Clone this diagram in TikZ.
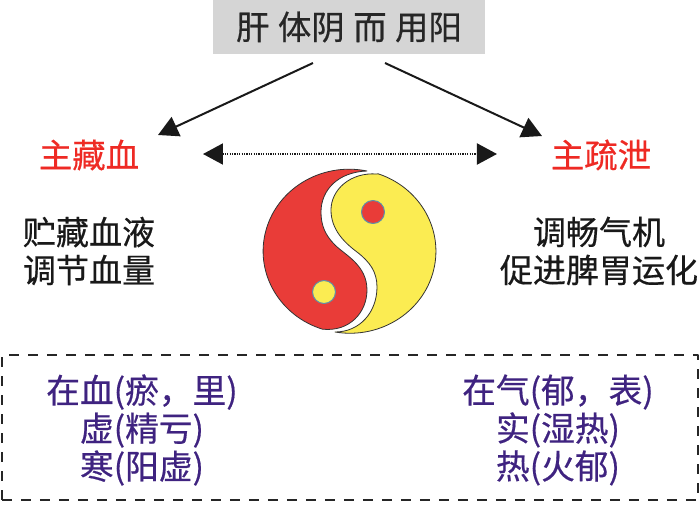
\documentclass[tikz,border=0pt]{standalone}
\usepackage{fontspec}
\setmainfont[FakeBold=0.5]{Noto Sans CJK SC}
\usepackage[usenames, table, x11names]{xcolor}
\usetikzlibrary{arrows.meta}
\definecolor{yinred}{HTML}{E93C38}
\definecolor{yangyellow}{HTML}{FBEC52}
\definecolor{labelred}{HTML}{EE2A24}
\definecolor{notepurple}{HTML}{3F2380}
\definecolor{titlegray}{HTML}{D5D5D5}
\definecolor{dotblue}{HTML}{5F8FA8}
\tikzset{
	titlebox/.style={fill=titlegray,text=black!85,minimum width=2.72cm,minimum height=.54cm,inner sep=0pt,font=\fontsize{9.5}{10}\selectfont},
	redlabel/.style={text=labelred,inner sep=0pt,font=\fontsize{9.5}{10.8}\selectfont},
	blacktext/.style={text=black!90,align=center,inner sep=0pt,font=\fontsize{9.4}{10.8}\selectfont},
	purpletext/.style={text=notepurple,align=center,inner sep=0pt,font=\fontsize{9.6}{10.8}\selectfont},
	dashbox/.style={draw=black!85,line width=.02cm,dash pattern=on .1cm off .09cm,minimum width=6.96cm,minimum height=1.45cm,inner sep=0pt},
	bigarrow/.style={draw=black!90,line width=.02cm,-{Triangle[length=.2cm,width=.21cm]}},
	yinyang/.style={draw=black!80,line width=.008cm},
	eyedot/.style={draw=dotblue,line width=.01cm}
}
\begin{document}
\begin{tikzpicture}[line cap=butt,line join=round,x=1.0cm,y=1.0cm]
	\useasboundingbox (0.,0.) rectangle (7.,5.04);
	\node[titlebox] (title) at (3.49,4.77) {肝\hspace{.085cm}体阴\hspace{.085cm}而\hspace{.085cm}用阳};
	\node[redlabel] (zanglabel) at (.89,3.49) {主藏血};
	\node[redlabel] (xielabel) at (6.01,3.49) {主疏泄};
	\node[blacktext] (zangtext) at (.89,2.53) {贮藏血液\\调节血量};
	\node[blacktext] (xietext) at (5.99,2.53) {调畅气机\\促进脾胃运化};
	\node[dashbox] (notebox) at (3.5,.765) {};
	\node[purpletext] (yinnote) at (1.42,.74) {在血(瘀，里)\\虚(精亏)\\寒(阳虚)};
	\node[purpletext] (yangnote) at (5.58,.74) {在气(郁，表)\\实(湿热)\\热(火郁)};
	% arrow ends
	\coordinate (leftstart) at (3.13,4.41);
	\coordinate (leftend) at (1.58,3.69);
	\coordinate (rightstart) at (3.85,4.41);
	\coordinate (rightend) at (5.42,3.68);
	\coordinate (dotleft) at (2.03,3.5);
	\coordinate (dotright) at (4.97,3.5);
	\draw[bigarrow] (leftstart) -- (leftend);
	\draw[bigarrow] (rightstart) -- (rightend);
	\draw[bigarrow,{Triangle[length=.2cm,width=.21cm]}-{Triangle[length=.2cm,width=.21cm]},dash pattern=on .012cm off .012cm,line width=.02cm] (dotleft) -- (dotright);
	% red half
	\draw[yinyang,fill=yinred] (3.67,3.33) arc[start angle=78,end angle=252,x radius=.86,y radius=.82]
		.. controls (3.50,1.72) and (3.67,1.92) .. (3.67,2.14)
		.. controls (3.67,2.39) and (3.45,2.49) .. (3.35,2.59)
		.. controls (3.25,2.69) and (3.21,2.79) .. (3.21,2.92)
		.. controls (3.21,3.14) and (3.38,3.32) .. cycle;
	% yellow half
	\draw[yinyang,fill=yangyellow] (3.77,3.30)
		.. controls (3.50,3.32) and (3.31,3.14) .. (3.31,2.94)
		.. controls (3.31,2.74) and (3.45,2.61) .. (3.57,2.52)
		.. controls (3.70,2.42) and (3.77,2.32) .. (3.77,2.17)
		.. controls (3.77,1.92) and (3.60,1.72) .. (3.35,1.72)
		arc[start angle=260,end angle=431,x radius=.86,y radius=.82] -- cycle;
	\draw[eyedot,fill=yinred] (3.73,2.92) circle (.115);
	\draw[eyedot,fill=yangyellow] (3.24,2.12) circle (.115);
\end{tikzpicture}
\end{document}
